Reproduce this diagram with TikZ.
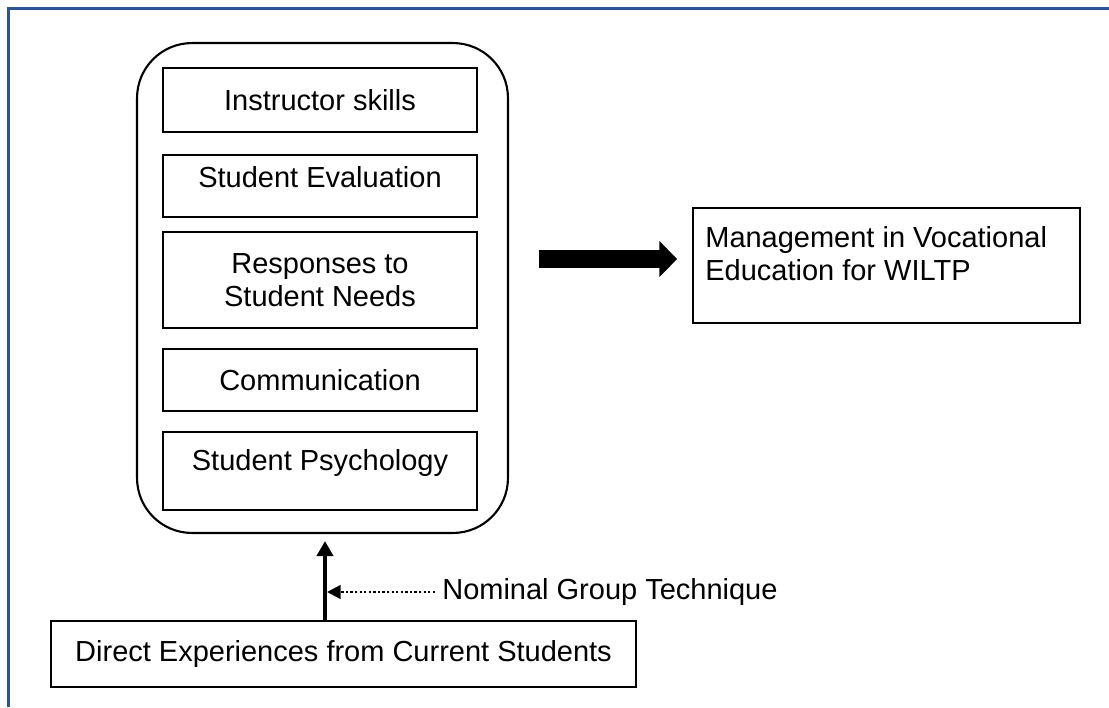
\documentclass[tikz,border=0pt]{standalone}
\usepackage{fontspec}
\setmainfont{Liberation Sans}
\usetikzlibrary{arrows.meta}
\definecolor{framecol}{RGB}{47,84,150}
\begin{document}
\begin{tikzpicture}[x=0.02cm,y=-0.02cm,font=\fontsize{16.5}{18.8}\selectfont]
        \useasboundingbox (0,0) rectangle (1109,707);
        \draw[framecol,line width=0.07cm] (8.5,707) -- (8.5,8.5) -- (1109,8.5);
        \node[draw,line width=1.2pt,rounded corners=1.1cm,minimum width=7.42cm,minimum height=9.8cm] (frame) at (322.5,288) {};
        \begin{scope}[every node/.style={draw,line width=0.9pt,minimum width=6.28cm,align=center}]
        \node[minimum height=1.28cm] (skills) at (320,100) {Instructor skills};
        \node[minimum height=1.24cm,text depth=10pt] (eval) at (320,186) {Student Evaluation};
        \node[minimum height=1.92cm] (needs) at (320,280) {Responses to\\Student Needs};
        \node[minimum height=1.24cm] (comm) at (320,380) {Communication};
        \node[minimum height=1.56cm,text depth=13pt] (psych) at (320,471) {Student Psychology};
        \node[minimum width=7.74cm,minimum height=2.3cm] (goal) at (886.5,265.5) {};
        \node[minimum width=11.7cm,minimum height=1.32cm] (direct) at (343.5,654) {Direct Experiences from Current Students};
        \end{scope}
        \node[anchor=north west,inner sep=0pt,align=left] (goaltext) at (705,226) {Management in Vocational\\Education for WILTP};
        \node[anchor=west,inner sep=0pt] (ngt) at (442,592) {Nominal Group Technique};
        \coordinate (rise) at (325,590);
        \coordinate (aim) at ([yshift=0.13cm]goal.west);
        \begin{scope}[every edge/.style={draw=black,line width=2.2pt}]
        \path (direct.north -| rise) edge[-{Triangle[width=0.32cm,length=0.3cm]},shorten >=0.14cm] (frame.south -| rise)
              (ngt.west) edge[line width=1.4pt,dash pattern=on 1.3pt off 1.3pt,-{Triangle[width=0.27cm,length=0.27cm]},shorten <=0.14cm,shorten >=0.04cm] (ngt.west -| rise)
              (frame.east |- aim) edge[line width=0.36cm,-{Triangle[width=0.7cm,length=0.36cm]},shorten <=0.6cm,shorten >=0.3cm] (aim);
        \end{scope}
\end{tikzpicture}
\end{document}
